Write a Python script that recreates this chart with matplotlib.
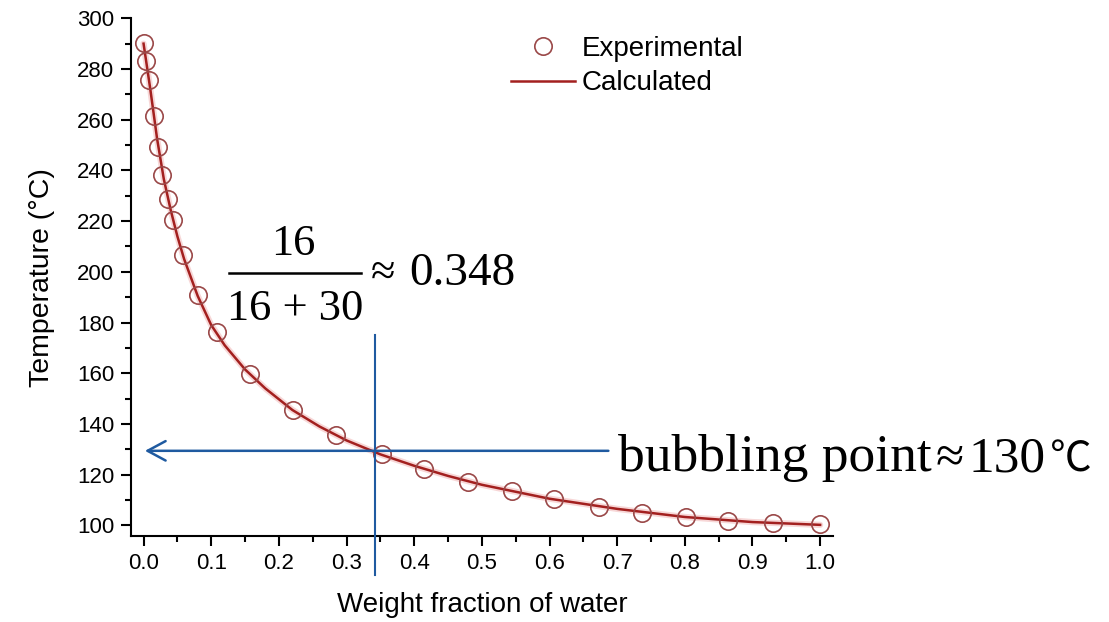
import matplotlib
matplotlib.use("Agg")
import matplotlib.pyplot as plt
from matplotlib.ticker import MultipleLocator

# Experimental data (weight fraction of water, temperature °C)
exp_x = [0.000, 0.004, 0.008, 0.016, 0.021, 0.028, 0.036, 0.043, 0.058, 0.080,
         0.108, 0.158, 0.221, 0.285, 0.352, 0.414, 0.479, 0.544, 0.607, 0.673,
         0.736, 0.802, 0.864, 0.930, 1.000]
exp_T = [290.3, 283.3, 275.7, 261.6, 249.2, 238.2, 228.6, 220.5, 206.6, 190.8,
         176.4, 159.7, 145.5, 135.6, 128.1, 122.1, 117.2, 113.5, 110.3, 107.3,
         105.0, 103.2, 101.8, 101.0, 100.4]

# Calculated curve
calc_x = [0.000, 0.005, 0.010, 0.020, 0.030, 0.040, 0.050, 0.060, 0.080, 0.100,
          0.120, 0.150, 0.180, 0.220, 0.260, 0.300, 0.350, 0.400, 0.450, 0.500,
          0.600, 0.700, 0.800, 0.900, 1.000]
calc_T = [290.0, 281.0, 272.0, 252.5, 236.5, 224.5, 214.0, 205.0, 190.5, 179.0,
          171.0, 161.5, 154.0, 145.5, 139.0, 133.5, 128.0, 123.5, 119.5, 116.0,
          110.5, 106.5, 103.3, 101.3, 100.2]

x_ticks = [0.0, 0.1, 0.2, 0.3, 0.4, 0.5, 0.6, 0.7, 0.8, 0.9, 1.0]
y_ticks = [100, 120, 140, 160, 180, 200, 220, 240, 260, 280, 300]

bubble_x = 0.342
bubble_T = 129.4

SANS = "Liberation Sans"
SERIF = ["Liberation Serif", "DejaVu Serif"]
BLUE = "#1f5aa0"

fig = plt.figure(figsize=(11.09, 6.22), dpi=100)
ax = fig.add_axes([130.7 / 1109, 1 - 536 / 622, (833 - 130.7) / 1109, (536 - 18.3) / 622])

# glow + line
ax.plot(calc_x, calc_T, color="#e06060", lw=4.5, alpha=0.25, solid_capstyle="round", zorder=2)
ax.plot(calc_x, calc_T, color="#a3201f", lw=1.8, zorder=3, label="Calculated")
ax.plot(exp_x, exp_T, linestyle="none", marker="o", markersize=12.5, markerfacecolor="none",
        markeredgecolor="#9a4848", markeredgewidth=1.2, zorder=4, label="Experimental")

ax.set_xlim(-0.019, 1.019)
ax.set_ylim(95.8, 300)
ax.set_xticks(x_ticks)
ax.set_xticklabels([f"{v:.1f}" for v in x_ticks])
ax.set_yticks(y_ticks)
ax.set_yticklabels([str(v) for v in y_ticks])
ax.xaxis.set_minor_locator(MultipleLocator(0.05))
ax.yaxis.set_minor_locator(MultipleLocator(10))

for s in ["top", "right"]:
    ax.spines[s].set_visible(False)
for s in ["left", "bottom"]:
    ax.spines[s].set_linewidth(1.5)

ax.tick_params(axis="both", which="major", direction="out", length=7, width=1.5,
               labelsize=16)
ax.tick_params(axis="both", which="minor", direction="out", length=4, width=1.5)
ax.tick_params(axis="x", which="major", pad=5)
ax.tick_params(axis="y", which="major", pad=5)
for lab in ax.get_xticklabels() + ax.get_yticklabels():
    lab.set_fontfamily(SANS)

ax.set_xlabel("Weight fraction of water", fontsize=20, fontfamily=SANS, labelpad=13)
ax.set_ylabel("Temperature (°C)", fontsize=20.5, fontfamily=SANS, labelpad=16)

# legend
h, l = ax.get_legend_handles_labels()
leg = ax.legend([h[1], h[0]], [l[1], l[0]], loc="upper left",
                bbox_to_anchor=(511 / 1109, 1 - 36 / 622), bbox_transform=fig.transFigure,
                frameon=False, handlelength=2.3, handletextpad=0.25,
                labelspacing=0.3, borderpad=0, borderaxespad=0,
                prop={"family": SANS, "size": 20})

# annotation lines
ax.plot([bubble_x, bubble_x], [80.4, 175.1], color=BLUE, lw=1.5, clip_on=False, zorder=5)
ax.annotate("", xy=(0.002, bubble_T), xytext=(0.687, bubble_T),
            arrowprops=dict(arrowstyle="->,head_length=1.3,head_width=0.7", color=BLUE,
                            lw=1.8, shrinkA=0, shrinkB=0), zorder=5)

# fraction text
ax.text(0.222, 206.6, "16", fontsize=32, family=SERIF, ha="center", va="baseline")
ax.text(0.224, 181.1, "16 + 30", fontsize=32, family=SERIF, ha="center", va="baseline")
ax.plot([0.126, 0.3215], [199.6, 199.6], color="black", lw=1.8, clip_on=False)
ax.text(0.336, 194.8, "\u2248", fontsize=32, family=SERIF, ha="left", va="baseline")
ax.text(0.392, 194.8, "0.348", fontsize=34, family=SERIF, ha="left", va="baseline")

# bubbling point text
ax.text(0.701, 121.4, "bubbling point", fontsize=38.5, family=SERIF, ha="left", va="baseline")
ax.text(1.171, 121.4, "\u2248", fontsize=37, family=SERIF, ha="left", va="baseline")
ax.text(1.220, 121.4, "130", fontsize=37, family=SERIF, ha="left", va="baseline")
ax.text(1.340, 121.4, "\u2103", fontsize=30, family=["Noto Sans CJK SC"], ha="left", va="baseline")

fig.savefig("out.png", dpi=100)
